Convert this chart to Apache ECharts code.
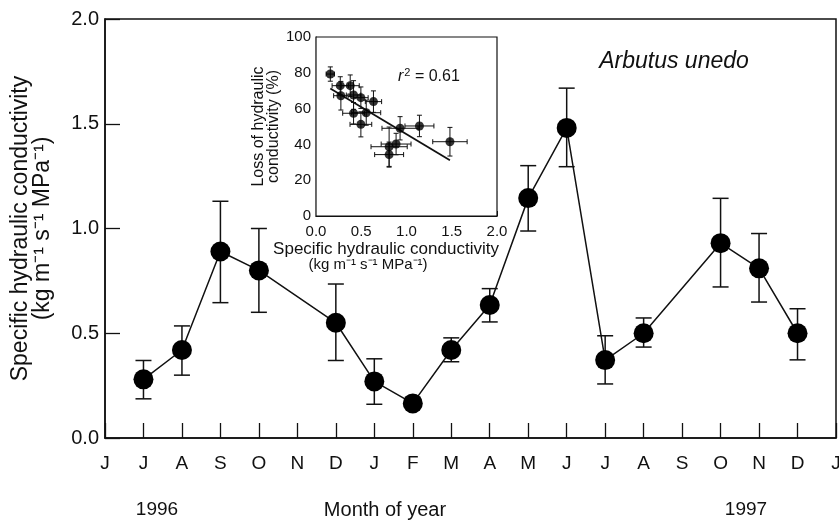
<!DOCTYPE html>
<html><head><meta charset="utf-8">
<script src="https://cdn.jsdelivr.net/npm/echarts@6/dist/echarts.min.js"></script>
<style>html,body{margin:0;padding:0;background:#fff}#c{width:839px;height:522px}</style>
</head><body><div id="c"></div>
<script>
// ---- main chart data ----
const monthLabels = ['J','J','A','S','O','N','D','J','F','M','A','M','J','J','A','S','O','N','D','J'];
const mainMonthIdx = [1,2,3,4,6,7,8,9,10,11,12,13,14,16,17,18];
const mainValues  = [0.28,0.42,0.89,0.80,0.55,0.27,0.165,0.42,0.635,1.145,1.48,0.372,0.50,0.93,0.81,0.50];
const mainErrHigh = [0.37,0.535,1.13,1.00,0.735,0.378,0.19,0.478,0.713,1.30,1.67,0.488,0.573,1.144,0.976,0.617];
const mainErrLow  = [0.187,0.30,0.646,0.60,0.37,0.161,0.145,0.364,0.554,0.988,1.295,0.258,0.434,0.721,0.649,0.373];
const yearLabels = ['1996','1997'];
const xTitle = 'Month of year';
// ---- inset data ----
const insetX    = [0.158,0.268,0.275,0.378,0.415,0.415,0.496,0.496,0.555,0.635,0.808,0.808,0.885,0.929,1.143,1.48];
const insetY    = [79.3,72.8,67.2,72.8,67.6,57.4,66.1,51.2,57.7,63.9,38.7,34.3,40.2,49.0,50.3,41.5];
const insetXErr = [0.046,0.09,0.08,0.10,0.08,0.12,0.08,0.12,0.16,0.09,0.20,0.16,0.165,0.20,0.16,0.19];
const insetYErr = [4,5,8,6,8,6,6,7,7,6,11,7,6,6.5,6,8];
const fitIntercept = 76.0;
const fitSlope = -30.3;
const fitXRange = [0.158, 1.48];
const rSquared = '0.61';

const FONT = "'Liberation Sans', Arial, Helvetica, sans-serif";
const INK = '#111';

const chart = echarts.init(document.getElementById('c'), null, {renderer: 'canvas'});

const mainLine = mainMonthIdx.map((m, i) => [m, mainValues[i]]);
const mainErr = mainMonthIdx.map((m, i) => [m, mainErrLow[i], mainErrHigh[i]]);
const insetPts = insetX.map((x, i) => [x, insetY[i]]);
const insetErr = insetX.map((x, i) => [x, insetY[i], x - insetXErr[i], x + insetXErr[i], insetY[i] - insetYErr[i], insetY[i] + insetYErr[i]]);
const fitLine = fitXRange.map(x => [x, fitIntercept + fitSlope * x]);

function lineEl(x1, y1, x2, y2, w) {
  return {type: 'line', shape: {x1, y1, x2, y2}, style: {stroke: INK, lineWidth: w}};
}

const option = {
  backgroundColor: '#fff',
  animation: false,
  textStyle: {fontFamily: FONT},
  grid: [
    {left: 105, top: 19, width: 731, height: 419, containLabel: false, outerBoundsMode: 'none', show: true, borderColor: INK, borderWidth: 1.5, backgroundColor: 'transparent', z: 0},
    {left: 316, top: 37, width: 181, height: 179, containLabel: false, outerBoundsMode: 'none', show: true, borderColor: INK, borderWidth: 1.2, backgroundColor: '#fff', z: 1}
  ],
  xAxis: [
    {
      type: 'value', gridIndex: 0, min: 0, max: 19, interval: 1,
      axisLine: {lineStyle: {color: INK, width: 1.5}},
      axisTick: {inside: true, length: 15, lineStyle: {color: INK, width: 1.3}},
      axisLabel: {color: INK, fontSize: 19, margin: 16, fontFamily: FONT, formatter: v => monthLabels[Math.round(v)] || ''},
      splitLine: {show: false}
    },
    {
      type: 'value', gridIndex: 1, min: 0, max: 2, interval: 0.5,
      axisLine: {lineStyle: {color: INK, width: 1.2}},
      axisTick: {inside: true, length: 5, lineStyle: {color: INK, width: 1}},
      axisLabel: {color: INK, fontSize: 15, margin: 8, fontFamily: FONT, formatter: v => v.toFixed(1)},
      splitLine: {show: false}
    }
  ],
  yAxis: [
    {
      type: 'value', gridIndex: 0, min: 0, max: 2, interval: 0.5,
      axisLine: {lineStyle: {color: INK, width: 1.5}},
      axisTick: {inside: true, length: 15, lineStyle: {color: INK, width: 1.3}},
      axisLabel: {color: INK, fontSize: 20, margin: 6, fontFamily: FONT, formatter: v => v.toFixed(1)},
      splitLine: {show: false},
      name: 'Specific hydraulic conductivity\n(kg m\u207B\u00B9 s\u207B\u00B9 MPa\u207B\u00B9)',
      nameLocation: 'middle', nameGap: 51,
      nameTextStyle: {color: INK, fontSize: 23, lineHeight: 22, fontFamily: FONT}
    },
    {
      type: 'value', gridIndex: 1, min: 0, max: 100, interval: 20,
      axisLine: {lineStyle: {color: INK, width: 1.2}},
      axisTick: {inside: true, length: 5, lineStyle: {color: INK, width: 1}},
      axisLabel: {color: INK, fontSize: 15, margin: 5, fontFamily: FONT},
      splitLine: {show: false},
      name: 'Loss of hydraulic\nconductivity (%)',
      nameLocation: 'middle', nameGap: 30,
      nameTextStyle: {color: INK, fontSize: 16, lineHeight: 15, fontFamily: FONT}
    }
  ],
  series: [
    {
      type: 'custom', xAxisIndex: 0, yAxisIndex: 0, data: mainErr, z: 2,
      renderItem: (params, api) => {
        const x = api.value(0);
        const lo = api.coord([x, api.value(1)]);
        const hi = api.coord([x, api.value(2)]);
        const cw = 8;
        return {type: 'group', children: [
          lineEl(lo[0], lo[1], hi[0], hi[1], 1.5),
          lineEl(hi[0] - cw, hi[1], hi[0] + cw, hi[1], 1.5),
          lineEl(lo[0] - cw, lo[1], lo[0] + cw, lo[1], 1.5)
        ]};
      }
    },
    {
      type: 'line', xAxisIndex: 0, yAxisIndex: 0, data: mainLine, z: 3,
      symbol: 'circle', symbolSize: 20, showSymbol: true,
      itemStyle: {color: '#000'}, lineStyle: {color: INK, width: 1.5}
    },
    {
      type: 'custom', xAxisIndex: 1, yAxisIndex: 1, data: insetErr, z: 4,
      renderItem: (params, api) => {
        const xl = api.coord([api.value(2), api.value(1)]);
        const xh = api.coord([api.value(3), api.value(1)]);
        const yl = api.coord([api.value(0), api.value(4)]);
        const yh = api.coord([api.value(0), api.value(5)]);
        const cw = 2.5;
        return {type: 'group', children: [
          lineEl(xl[0], xl[1], xh[0], xh[1], 1),
          lineEl(xl[0], xl[1] - cw, xl[0], xl[1] + cw, 1),
          lineEl(xh[0], xh[1] - cw, xh[0], xh[1] + cw, 1),
          lineEl(yl[0], yl[1], yh[0], yh[1], 1),
          lineEl(yl[0] - cw, yl[1], yl[0] + cw, yl[1], 1),
          lineEl(yh[0] - cw, yh[1], yh[0] + cw, yh[1], 1)
        ]};
      }
    },
    {
      type: 'line', xAxisIndex: 1, yAxisIndex: 1, data: fitLine, z: 5,
      symbol: 'none', lineStyle: {color: INK, width: 1.8}
    },
    {
      type: 'scatter', xAxisIndex: 1, yAxisIndex: 1, data: insetPts, z: 6,
      symbol: 'circle', symbolSize: 9, itemStyle: {color: '#000'}
    }
  ],
  graphic: [
    {type: 'text', x: 674, y: 62, style: {text: 'Arbutus unedo', font: `italic 23px ${FONT}`, fill: INK, align: 'center', verticalAlign: 'middle'}},
    {type: 'text', x: 157, y: 510, style: {text: yearLabels[0], font: `19px ${FONT}`, fill: INK, align: 'center', verticalAlign: 'middle'}},
    {type: 'text', x: 385, y: 510, style: {text: xTitle, font: `20px ${FONT}`, fill: INK, align: 'center', verticalAlign: 'middle'}},
    {type: 'text', x: 746, y: 510, style: {text: yearLabels[1], font: `19px ${FONT}`, fill: INK, align: 'center', verticalAlign: 'middle'}},
    {type: 'text', x: 386, y: 249, z: 10, style: {text: 'Specific hydraulic conductivity', font: `17px ${FONT}`, fill: INK, align: 'center', verticalAlign: 'middle'}},
    {type: 'text', x: 368, y: 265, z: 10, style: {text: '(kg m\u207B\u00B9 s\u207B\u00B9 MPa\u207B\u00B9)', font: `15px ${FONT}`, fill: INK, align: 'center', verticalAlign: 'middle'}},
    {type: 'text', x: 398, y: 77, z: 10, style: {
      text: '{i|r}{s|2}{n| = ' + rSquared + '}', verticalAlign: 'middle',
      rich: {
        i: {font: `italic 16px ${FONT}`, fill: INK},
        s: {font: `11px ${FONT}`, fill: INK, padding: [0, 0, 9, 1]},
        n: {font: `16px ${FONT}`, fill: INK}
      }
    }}
  ]
};
chart.setOption(option);
</script>
</body></html>
